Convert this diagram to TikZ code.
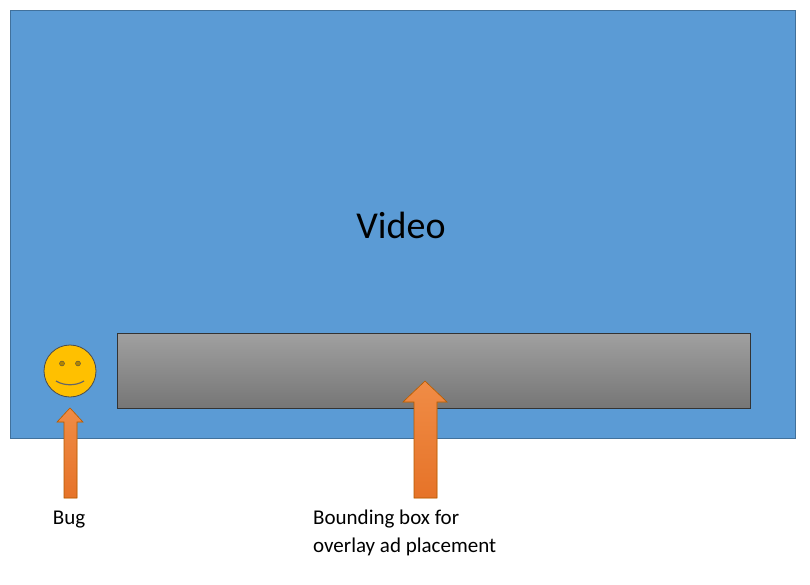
\documentclass[tikz,border=0pt]{standalone}
\usepackage{fontspec}
\setmainfont{Carlito}
\begin{document}
\begin{tikzpicture}[x=1pt,y=-1pt,
  blockarrow/.style={fill=orange!80!red!70!yellow, draw=orange!70!black, line width=0.6pt, top color={rgb,255:red,240;green,140;blue,70}, bottom color={rgb,255:red,230;green,115;blue,40}},
  lbl/.style={font=\fontsize{21}{28}\selectfont, text=black}]
\useasboundingbox (0,0) rectangle (810,585);
\definecolor{vblue}{RGB}{91,155,213}
\definecolor{borderblue}{RGB}{65,113,156}
\definecolor{sun}{RGB}{255,192,0}
\node[draw=borderblue, fill=vblue, minimum width=785, minimum height=428, inner sep=0, line width=0.6pt] (video) at (402.5,224) {};
\node[font=\fontsize{38}{44}\selectfont] (vt) at (401,225) {Video};
\node[draw=black!80, line width=0.8pt, top color={rgb,255:red,160;green,160;blue,160}, bottom color={rgb,255:red,118;green,118;blue,118}, minimum width=633, minimum height=75, inner sep=0] (bbox) at (433.5,370.5) {};
\node[circle, draw=black!70, fill=sun, minimum size=52, inner sep=0, line width=0.8pt] (bug) at (70,371) {};
\fill[draw=black!70, fill=sun!70!black] (62,363.5) circle (2.5) (78,363.5) circle (2.5);
\draw[black!60, line width=1.2pt] (56,381) .. controls (64,386) and (76,386) .. (84,381);
\path[blockarrow] (64,498) -- (64,422) -- (57,422) -- (70,408) -- (83,422) -- (77,422) -- (77,498) -- cycle;
\path[blockarrow] (414,498) -- (414,402) -- (403,402) -- (425,381) -- (447,402) -- (437,402) -- (437,498) -- cycle;
\node[lbl] (buglbl) at (69,520) {Bug};
\node[lbl, align=left, anchor=north west, inner sep=0] (bblbl) at (313,510) {Bounding box for\\overlay ad placement};
\end{tikzpicture}
\end{document}
